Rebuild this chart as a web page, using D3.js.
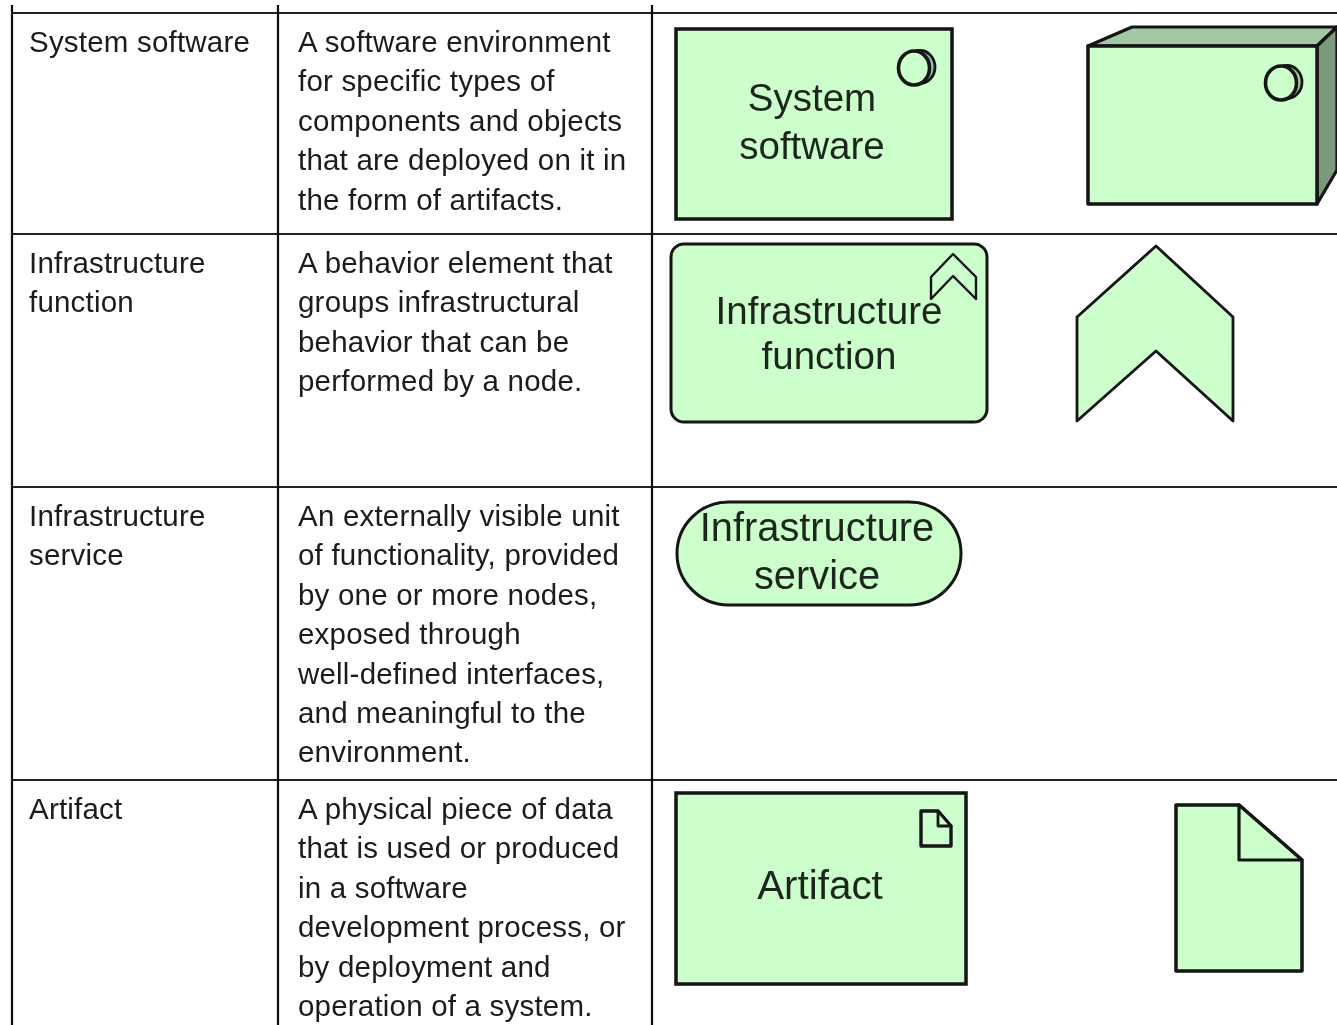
<!DOCTYPE html>
<html>
<head>
<meta charset="utf-8">
<script src="https://cdn.jsdelivr.net/npm/d3@7"></script>
<style>
  html, body { margin: 0; padding: 0; background: #fff; overflow: hidden; }
  svg { display: block; }
  text { font-family: "Liberation Sans", Arial, sans-serif; }
</style>
</head>
<body>
<div id="chart"></div>
<script>
// table content
const names = [
  ["System software"],
  ["Infrastructure", "function"],
  ["Infrastructure", "service"],
  ["Artifact"]
];
const descriptions = [
  ["A software environment", "for specific types of", "components and objects", "that are deployed on it in", "the form of artifacts."],
  ["A behavior element that", "groups infrastructural", "behavior that can be", "performed by a node."],
  ["An externally visible unit", "of functionality, provided", "by one or more nodes,", "exposed through", "well-defined interfaces,", "and meaningful to the", "environment."],
  ["A physical piece of data", "that is used or produced", "in a software", "development process, or", "by deployment and", "operation of a system."]
];
const shapeLabels = [
  ["System", "software"],
  ["Infrastructure", "function"],
  ["Infrastructure", "service"],
  ["Artifact"]
];

// layout
const width = 1337, height = 1025;
const rowLines = [13, 234, 487, 780];
const colLines = [12, 278, 652];
const firstBaseline = [52, 273, 526, 819];
const lineStep = 39.4;

const fill = "#ccffcc", ink = "#121212";

const svg = d3.select("#chart").append("svg")
  .attr("width", width)
  .attr("height", height);

const defs = svg.append("defs");
defs.append("filter").attr("id", "soft")
  .attr("x", "-5%").attr("y", "-5%").attr("width", "110%").attr("height", "110%")
  .append("feGaussianBlur").attr("stdDeviation", 0.6);

const root = svg.append("g").attr("filter", "url(#soft)");
root.append("rect").attr("width", width).attr("height", height).attr("fill", "#fff");

// grid lines
root.selectAll(".row-line")
  .data(rowLines)
  .enter().append("line")
  .attr("class", "row-line")
  .attr("x1", colLines[0]).attr("x2", width)
  .attr("y1", d => d).attr("y2", d => d)
  .attr("stroke", "#222").attr("stroke-width", 2.2);

root.selectAll(".col-line")
  .data(colLines)
  .enter().append("line")
  .attr("class", "col-line")
  .attr("x1", d => d).attr("x2", d => d)
  .attr("y1", 5).attr("y2", height)
  .attr("stroke", "#111").attr("stroke-width", 2.2);

// left two columns of text
function tableText(rows, x, cls) {
  rows.forEach(function (lines, r) {
    root.selectAll("." + cls + r)
      .data(lines)
      .enter().append("text")
      .attr("class", cls + r)
      .attr("x", x)
      .attr("y", (d, i) => firstBaseline[r] + i * lineStep)
      .attr("font-size", 29.5)
      .attr("letter-spacing", 0.2)
      .attr("fill", "#1a1a1a")
      .text(d => d);
  });
}
tableText(names, 29, "name");
tableText(descriptions, 298, "desc");

// label inside a shape
function shapeLabel(lines, cx, y0, size) {
  root.selectAll(null)
    .data(lines)
    .enter().append("text")
    .attr("x", cx)
    .attr("y", (d, i) => y0 + i * 47.5)
    .attr("text-anchor", "middle")
    .attr("font-size", size)
    .attr("fill", "#1a261a")
    .text(d => d);
}

const poly = d3.line();
function polygon(pts, color, sw) {
  root.append("path")
    .attr("d", poly(pts) + "Z")
    .attr("fill", color)
    .attr("stroke", ink)
    .attr("stroke-width", sw)
    .attr("stroke-linejoin", "round");
}
function box(x0, y0, x1, y1, r, sw) {
  root.append("rect")
    .attr("x", x0).attr("y", y0)
    .attr("width", x1 - x0).attr("height", y1 - y0)
    .attr("rx", r).attr("ry", r)
    .attr("fill", fill)
    .attr("stroke", ink)
    .attr("stroke-width", sw);
}
function component(cx, cy, backFill) {
  root.append("ellipse")
    .attr("cx", cx + 6).attr("cy", cy - 1).attr("rx", 15).attr("ry", 16.5)
    .attr("fill", backFill).attr("stroke", ink).attr("stroke-width", 2.8);
  root.append("ellipse")
    .attr("cx", cx).attr("cy", cy).attr("rx", 15.5).attr("ry", 17)
    .attr("fill", fill).attr("stroke", ink).attr("stroke-width", 3.6);
}

// system software
box(676, 29, 952, 219, 0, 3.5);
component(914, 68, "#8fc0c0");
shapeLabel(shapeLabels[0], 812, 111, 38.5);

polygon([[1088, 46], [1132, 27], [1337, 27], [1317, 46]], "#a2c9a2", 3.2);
polygon([[1317, 46], [1337, 27], [1337, 170], [1317, 204]], "#7a9a7a", 3.2);
polygon([[1088, 46], [1317, 46], [1317, 204], [1088, 204]], fill, 3.5);
component(1281, 83, "#a2c9a2");

// infrastructure function
box(671, 244, 987, 422, 13, 3);
polygon([[953, 254], [976, 277], [976, 299], [953, 276], [931, 299], [931, 277]], fill, 2.4);
shapeLabel(["Infrastructure"], 829, 324, 38.5);
shapeLabel(["function"], 829, 369, 38.5);

polygon([[1156, 246], [1233, 317], [1233, 421], [1156, 351], [1077, 421], [1077, 317]], fill, 2.8);

// infrastructure service
box(677, 502, 961, 605, 51.5, 3);
shapeLabel(shapeLabels[2], 817, 541, 39.8);

// artifact
box(676, 793, 966, 984, 0, 3.5);
shapeLabel(shapeLabels[3], 820, 899, 40.4);
polygon([[921, 811], [938, 811], [951, 826], [951, 846], [921, 846]], fill, 3.4);
polygon([[938, 811], [951, 826], [938, 826]], fill, 2.8);

polygon([[1176, 805], [1239, 805], [1302, 860], [1302, 971], [1176, 971]], fill, 3.5);
polygon([[1239, 805], [1302, 860], [1239, 860]], fill, 3.2);
</script>
</body>
</html>
